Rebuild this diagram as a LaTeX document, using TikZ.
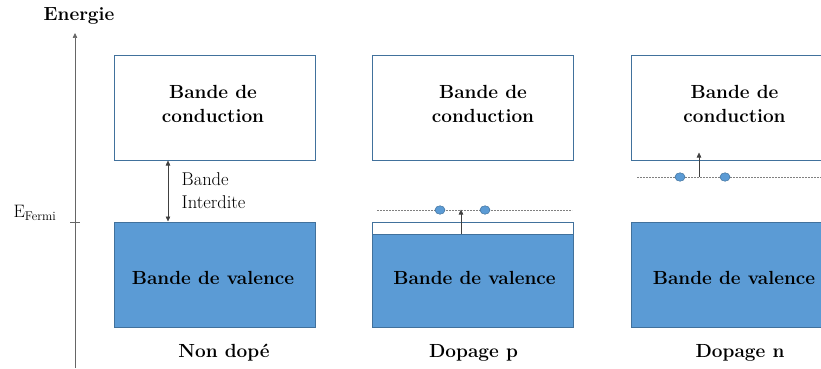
\documentclass[tikz,border=0pt]{standalone}
\usepackage{fontspec}
\usetikzlibrary{arrows.meta,shapes.geometric}
\definecolor{bandfill}{HTML}{5B9BD5}
\definecolor{bandedge}{HTML}{41719C}
\tikzset{
  band/.style={draw=bandedge, line width=0.9pt, minimum width=201pt, minimum height=105pt, inner sep=0pt},
  condband/.style={band, fill=white},
  valband/.style={band, fill=bandfill},
  bandtext/.style={align=center, font=\bfseries\fontsize{19}{24}\selectfont, inner sep=0pt},
  strip/.style={fill=bandfill, draw=bandedge, line width=0.9pt, minimum width=201pt, minimum height=93pt, inner sep=0pt},
  electron/.style={ellipse, fill=bandfill, draw=bandedge, line width=0.5pt, minimum width=10pt, minimum height=8.5pt, inner sep=0pt},
  level/.style={dash pattern=on 2pt off 1pt, draw=gray, line width=0.6pt},
  tip/.style={-{Triangle[length=5pt,width=4.5pt]}, line width=0.6pt, draw=black!75},
  caption/.style={font=\bfseries\fontsize{19}{22}\selectfont},
}
\begin{document}
\begin{tikzpicture}[x=1pt,y=-1pt]
\useasboundingbox (0,0) rectangle (821,369);
% axis
\coordinate (axb) at (75,368);
\coordinate (axt) at (75,33);
\draw[tip, draw=black!60] (axb) -- (axt);
\coordinate (tl) at (70,222);
\coordinate (tr) at (80,222);
\draw[line width=0.6pt, black!60] (tl) -- (tr);
\node[font=\bfseries\fontsize{19}{21}\selectfont] (energie) at (79,16) {Energie};
\node[font=\fontsize{18}{20}\selectfont] (ef) at (35,213) {E\textsubscript{Fermi}};
% column 1
\node[condband] (c1) at (214.5,107.5) {};
\node[bandtext] (c1t) at (213,104) {Bande de\\conduction};
\node[valband] (v1) at (214.5,274.5) {};
\node[bandtext] (v1t) at (213,278) {Bande de valence};
\coordinate (g1t) at (168,160.5);
\coordinate (g1b) at (168,221.5);
\draw[line width=0.6pt, draw=black!75, {Triangle[length=5pt,width=4.5pt]}-{Triangle[length=5pt,width=4.5pt]}] (g1t) -- (g1b);
\node[anchor=west, align=left, font=\fontsize{18.5}{23}\selectfont, inner sep=0pt] (gap) at (181.5,191) {Bande\\Interdite};
\node[caption] (cap1) at (224,353) {Non dopé};
% column 2
\node[condband] (c2) at (473,107.5) {};
\node[bandtext] (c2t) at (483,104) {Bande de\\conduction};
\node[band, fill=white] (v2) at (473,274.5) {};
\node[strip, anchor=south] (s2) at (v2.south) {};
\node[bandtext] (v2t) at (474.5,278) {Bande de valence};
\coordinate (l2a) at (377,210);
\coordinate (l2b) at (572,210);
\draw[level] (l2a) -- (l2b);
\node[electron] (e2a) at (440,210) {};
\node[electron] (e2b) at (485,210) {};
\coordinate (a2s) at (461,234);
\coordinate (a2e) at (461,209.5);
\draw[tip] (a2s) -- (a2e);
\node[caption] (cap2) at (473.5,353) {Dopage p};
% column 3
\node[condband] (c3) at (732,107.5) {};
\node[bandtext] (c3t) at (734.5,104) {Bande de\\conduction};
\node[valband] (v3) at (732,274.5) {};
\node[bandtext] (v3t) at (734,278) {Bande de valence};
\coordinate (l3a) at (637,177);
\coordinate (l3b) at (821,177);
\draw[level] (l3a) -- (l3b);
\node[electron] (e3a) at (680,177) {};
\node[electron] (e3b) at (725,177) {};
\coordinate (a3s) at (699,177);
\coordinate (a3e) at (699,152.5);
\draw[tip] (a3s) -- (a3e);
\node[caption] (cap3) at (740,353) {Dopage n};
\end{tikzpicture}
\end{document}
